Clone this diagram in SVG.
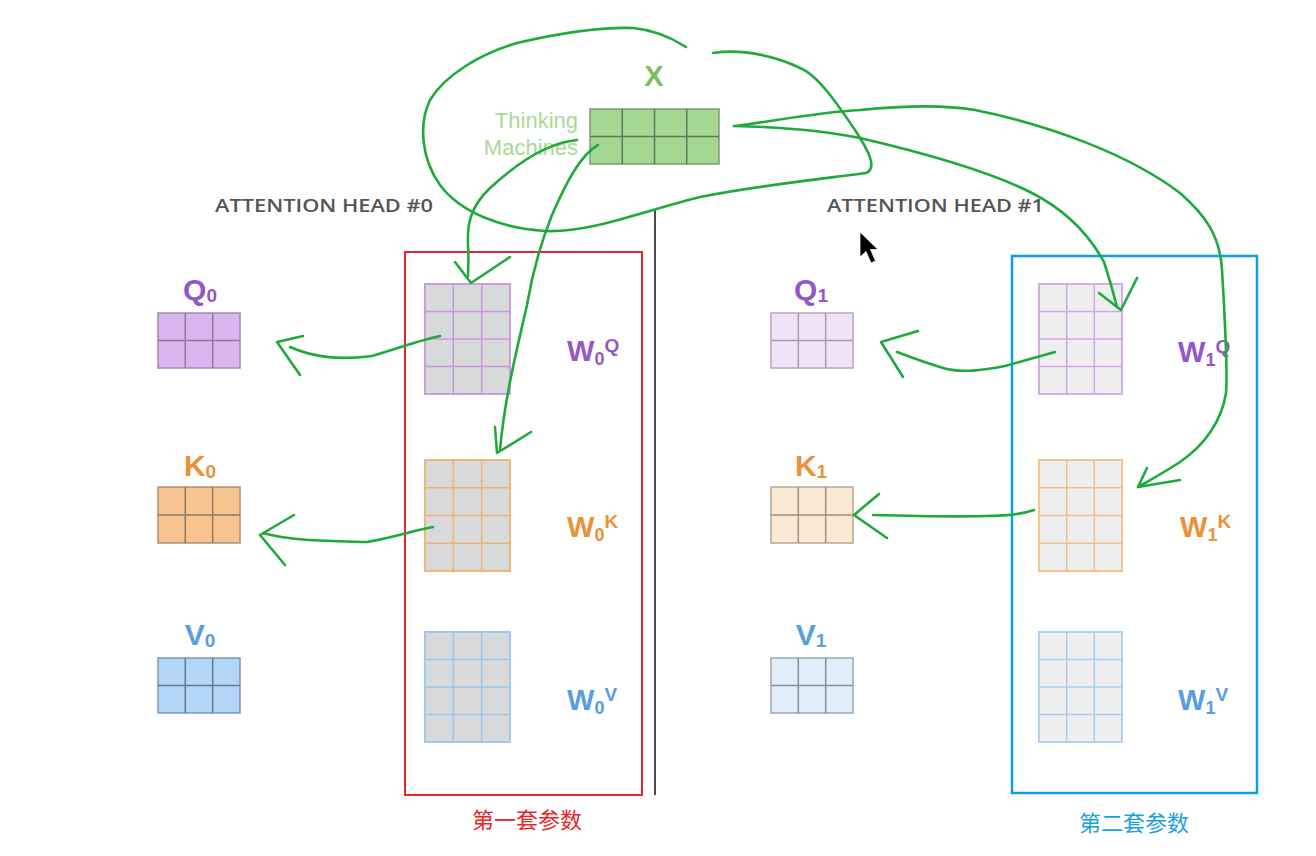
<svg xmlns="http://www.w3.org/2000/svg" width="1316" height="856" viewBox="0 0 1316 856">
<style>
.lbl{font-family:"Liberation Sans",Arial,sans-serif;font-weight:bold;}
.head{font-family:"Open Sans","Liberation Sans",sans-serif;font-weight:600;font-size:18px;fill:#555;}
.cn{font-family:"Liberation Sans","Noto Sans CJK SC",sans-serif;font-size:22px;}
.grid{fill:none;stroke-width:1.5;}
.ink{fill:none;stroke:#1faa3b;stroke-width:2.6;stroke-linecap:round;stroke-linejoin:round;}
.q{fill:#9358c5;} .k{fill:#e8923a;} .v{fill:#5a9de0;}
</style>
<rect width="1316" height="856" fill="#ffffff"/>

<g id="x-node">
<text x="654" y="86" class="lbl" font-size="29" fill="#78c060" text-anchor="middle">X</text>
<text x="578" y="128" font-family="Liberation Sans,Arial,sans-serif" font-size="22" fill="#a9d99a" text-anchor="end">Thinking</text>
<text x="578" y="155" font-family="Liberation Sans,Arial,sans-serif" font-size="22" fill="#a9d99a" text-anchor="end">Machines</text>
<rect x="590" y="109" width="129" height="55" fill="#a4d890" stroke="#7f9a74" stroke-width="1.5"/>
<path class="grid" stroke="#5f7a56" d="M622.25 109V164M654.5 109V164M686.75 109V164M590 136.5H719"/>
</g>

<g id="heads">
<text x="215" y="212" class="head" textLength="218" lengthAdjust="spacingAndGlyphs">ATTENTION HEAD #0</text>
<text x="827" y="212" class="head" textLength="217" lengthAdjust="spacingAndGlyphs">ATTENTION HEAD #1</text>
<line x1="655" y1="210" x2="655" y2="795" stroke="#4a4a4a" stroke-width="2"/>
</g>

<g id="q0">
<text x="200" y="300" class="lbl q" font-size="30" text-anchor="middle">Q<tspan font-size="19" dy="2">0</tspan></text>
<rect x="158" y="313" width="82" height="55" fill="#d9b6ef" stroke="#a08cab" stroke-width="1.5"/>
<path class="grid" stroke="#8f7a9c" d="M185.3 313V368M212.7 313V368M158 340.5H240"/>
</g>
<g id="k0">
<text x="200" y="476" class="lbl k" font-size="30" text-anchor="middle">K<tspan font-size="19" dy="2">0</tspan></text>
<rect x="158" y="487" width="82" height="56" fill="#f7c38e" stroke="#a89278" stroke-width="1.5"/>
<path class="grid" stroke="#8f7a62" d="M185.3 487V543M212.7 487V543M158 515H240"/>
</g>
<g id="v0">
<text x="200" y="645" class="lbl v" font-size="30" text-anchor="middle">V<tspan font-size="19" dy="2">0</tspan></text>
<rect x="158" y="658" width="82" height="55" fill="#b3d5f7" stroke="#7f95ab" stroke-width="1.5"/>
<path class="grid" stroke="#65798d" d="M185.3 658V713M212.7 658V713M158 685.5H240"/>
</g>

<g id="w0q">
<rect x="425" y="284" width="85" height="110" fill="#d8d9da" stroke="#c79ee0" stroke-width="2"/>
<path class="grid" stroke="#c49ade" stroke-width="2" d="M453.3 284V394M481.7 284V394M425 311.5H510M425 339H510M425 366.5H510"/>
<text x="567" y="361" class="lbl q" font-size="29">W<tspan font-size="18" dy="4">0</tspan><tspan font-size="19" dy="-13">Q</tspan></text>
</g>
<g id="w0k">
<rect x="425" y="460" width="85" height="111" fill="#d8d9da" stroke="#f0b878" stroke-width="2"/>
<path class="grid" stroke="#eeb472" stroke-width="2" d="M453.3 460V571M481.7 460V571M425 487.75H510M425 515.5H510M425 543.25H510"/>
<text x="567" y="537" class="lbl k" font-size="29">W<tspan font-size="18" dy="4">0</tspan><tspan font-size="19" dy="-13">K</tspan></text>
</g>
<g id="w0v">
<rect x="425" y="632" width="85" height="110" fill="#d8d9da" stroke="#a0c8f0" stroke-width="2"/>
<path class="grid" stroke="#9cc5ee" stroke-width="2" d="M453.3 632V742M481.7 632V742M425 659.5H510M425 687H510M425 714.5H510"/>
<text x="567" y="710" class="lbl v" font-size="29">W<tspan font-size="18" dy="4">0</tspan><tspan font-size="19" dy="-13">V</tspan></text>
</g>

<g id="set1">
<rect x="405" y="252" width="237" height="543" fill="none" stroke="#e8262a" stroke-width="2"/>
<text x="527" y="828" class="cn" fill="#e8262a" text-anchor="middle">第一套参数</text>
</g>

<g id="q1">
<text x="811" y="300" class="lbl q" font-size="30" text-anchor="middle">Q<tspan font-size="19" dy="2">1</tspan></text>
<rect x="771" y="313" width="82" height="55" fill="#f0e3f7" stroke="#b3a8ba" stroke-width="1.5"/>
<path class="grid" stroke="#a899b0" d="M798.3 313V368M825.7 313V368M771 340.5H853"/>
</g>
<g id="k1">
<text x="811" y="476" class="lbl k" font-size="30" text-anchor="middle">K<tspan font-size="19" dy="2">1</tspan></text>
<rect x="771" y="487" width="82" height="56" fill="#fbe9d4" stroke="#b5a898" stroke-width="1.5"/>
<path class="grid" stroke="#9e907e" d="M798.3 487V543M825.7 487V543M771 515H853"/>
</g>
<g id="v1">
<text x="811" y="645" class="lbl v" font-size="30" text-anchor="middle">V<tspan font-size="19" dy="2">1</tspan></text>
<rect x="771" y="658" width="82" height="55" fill="#e0edfb" stroke="#9ea6ae" stroke-width="1.5"/>
<path class="grid" stroke="#858e97" d="M798.3 658V713M825.7 658V713M771 685.5H853"/>
</g>

<g id="w1q">
<rect x="1039" y="284" width="83" height="110" fill="#efefef" stroke="#d2aee8" stroke-width="2"/>
<path class="grid" stroke="#cfa9e6" stroke-width="2" d="M1066.7 284V394M1094.3 284V394M1039 311.5H1122M1039 339H1122M1039 366.5H1122"/>
<text x="1178" y="362" class="lbl q" font-size="29">W<tspan font-size="18" dy="4">1</tspan><tspan font-size="19" dy="-13">Q</tspan></text>
</g>
<g id="w1k">
<rect x="1039" y="460" width="83" height="111" fill="#efefef" stroke="#f2c48e" stroke-width="2"/>
<path class="grid" stroke="#f0c088" stroke-width="2" d="M1066.7 460V571M1094.3 460V571M1039 487.75H1122M1039 515.5H1122M1039 543.25H1122"/>
<text x="1180" y="537" class="lbl k" font-size="29">W<tspan font-size="18" dy="4">1</tspan><tspan font-size="19" dy="-13">K</tspan></text>
</g>
<g id="w1v">
<rect x="1039" y="632" width="83" height="110" fill="#efefef" stroke="#b0d2f2" stroke-width="2"/>
<path class="grid" stroke="#aacef0" stroke-width="2" d="M1066.7 632V742M1094.3 632V742M1039 659.5H1122M1039 687H1122M1039 714.5H1122"/>
<text x="1178" y="710" class="lbl v" font-size="29">W<tspan font-size="18" dy="4">1</tspan><tspan font-size="19" dy="-13">V</tspan></text>
</g>

<g id="set2">
<rect x="1012" y="256" width="245" height="537" fill="none" stroke="#0aa0e6" stroke-width="2.5"/>
<text x="1134" y="831" class="cn" fill="#1ba0e0" text-anchor="middle">第二套参数</text>
</g>

<g id="cursor">
<polygon points="860,232 860,257 866,251.5 871,263 875.5,261 870.5,249.5 878,249.5" fill="#000" stroke="#fff" stroke-width="0.8"/>
</g>

<g id="connectors">
<path class="ink" d="M686 47 C672 38 655 30 633 28 C600 27 560 33 517 43 C480 54 445 75 430 100 C418 125 422 160 440 185 C460 212 500 228 545 231 C590 233 640 212 700 197 C760 185 830 178 866 173 C878 168 868 150 855 130 C838 105 818 75 800 68 C780 58 745 48 713 53"/>
<path class="ink" d="M577 140 C545 143 515 165 490 188 C470 207 467 225 468 245 C469 258 468 268 468 276"/>
<polyline class="ink" points="455,262 471,283 510,257"/>
<path class="ink" d="M598 145 C580 155 565 185 552 215 C542 240 532 275 527 305 C518 345 505 395 500 450"/>
<polyline class="ink" points="495,427 497,453 531,432"/>
<path class="ink" d="M440 336 C420 340 400 348 372 356 C340 360 315 358 290 347"/>
<polyline class="ink" points="303,336 277,342 300,375"/>
<path class="ink" d="M433 527 C415 530 395 537 367 542 C330 541 290 541 263 533"/>
<polyline class="ink" points="294,515 260,535 285,565"/>
<path class="ink" d="M734 126 C780 127 820 130 860 138 C920 152 990 172 1030 192 C1070 212 1092 240 1104 262 C1110 280 1114 295 1117 307"/>
<polyline class="ink" points="1099,293 1121,310 1137,278"/>
<path class="ink" d="M736 126 C780 120 820 112 860 110 C900 106 940 104 975 110 C1050 125 1130 155 1180 193 C1205 215 1220 235 1222 270 C1225 320 1228 370 1226 393 C1222 420 1205 445 1180 462 C1165 472 1150 480 1138 487"/>
<polyline class="ink" points="1147,468 1138,487 1180,480"/>
<path class="ink" d="M1055 352 C1040 356 1020 362 1005 366 C985 370 960 374 940 367 C920 361 905 355 897 352"/>
<polyline class="ink" points="918,331 881,342 903,377"/>
<path class="ink" d="M1034 510 C1020 515 1005 516 985 516 C950 517 910 516 873 515"/>
<polyline class="ink" points="879,494 854,515 887,538"/>
</g>
</svg>
